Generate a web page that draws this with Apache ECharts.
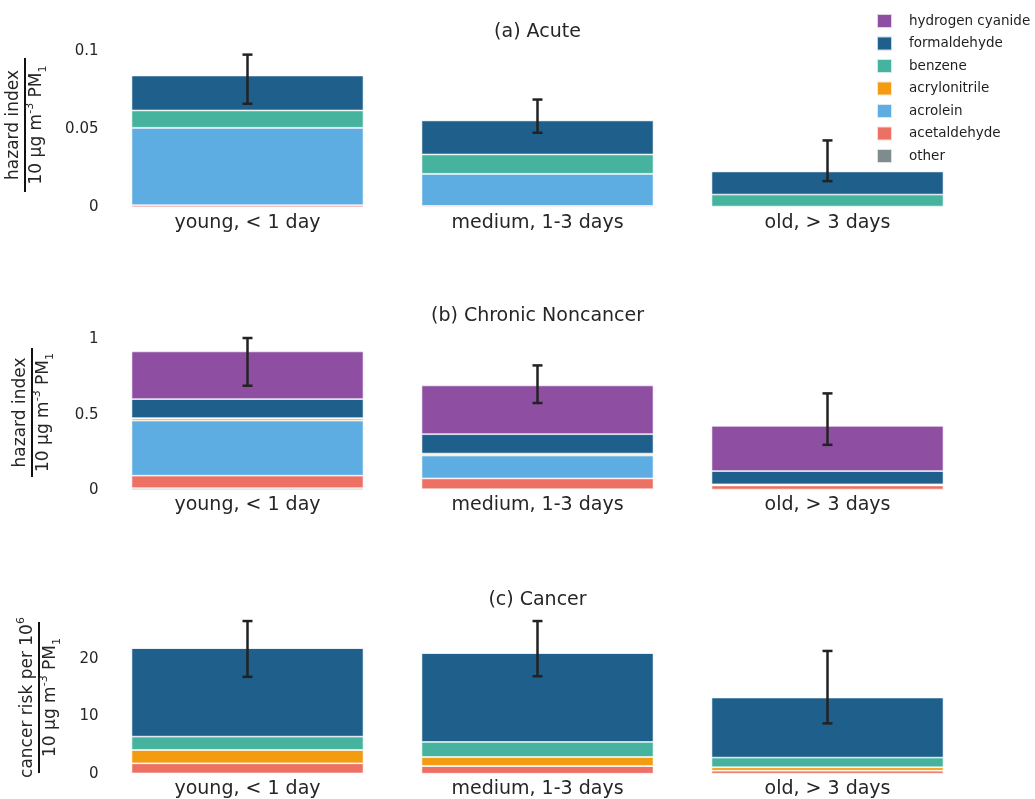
<!DOCTYPE html>
<html>
<head>
<meta charset="utf-8">
<script src="https://cdn.jsdelivr.net/npm/echarts@6/dist/echarts.min.js"></script>
<style>
  html, body { margin: 0; padding: 0; background: #fff; }
  #chart { width: 1035px; height: 799px; }
</style>
</head>
<body>
<div id="chart"></div>
<script>
// Smoke age classes
const categories = ['young, < 1 day', 'medium, 1-3 days', 'old, > 3 days'];

// Species, listed top-of-stack first (legend order)
const species = ['hydrogen cyanide', 'formaldehyde', 'benzene', 'acrylonitrile', 'acrolein', 'acetaldehyde', 'other'];
const speciesColors = ['#8E4FA3', '#1F5F8B', '#45B39D', '#F39C12', '#5DADE2', '#EC7063', '#7F8C8D'];

// (a) Acute hazard index per 10 ug m-3 PM1
const acuteHydrogenCyanide = [0.0004, 0.0004, 0.0002];
const acuteFormaldehyde    = [0.0224, 0.0218, 0.0148];
const acuteBenzene         = [0.0111, 0.0124, 0.0077];
const acuteAcrylonitrile   = [0.0000, 0.0000, 0.0000];
const acuteAcrolein        = [0.0496, 0.0206, 0.0001];
const acuteAcetaldehyde    = [0.0013, 0.0008, 0.0003];
const acuteOther           = [0.0002, 0.0002, 0.0002];
const acuteErrLow          = [0.0665, 0.0479, 0.0169];
const acuteErrHigh         = [0.0980, 0.0692, 0.0430];
const acuteTicks           = [0, 0.05, 0.1];

// (b) Chronic noncancer hazard index per 10 ug m-3 PM1
const chronicHydrogenCyanide = [0.317, 0.324, 0.300];
const chronicFormaldehyde    = [0.126, 0.129, 0.088];
const chronicBenzene         = [0.003, 0.003, 0.001];
const chronicAcrylonitrile   = [0.014, 0.010, 0.001];
const chronicAcrolein        = [0.366, 0.152, 0.006];
const chronicAcetaldehyde    = [0.083, 0.072, 0.027];
const chronicOther           = [0.012, 0.005, 0.003];
const chronicErrLow          = [0.693, 0.578, 0.300];
const chronicErrHigh         = [1.010, 0.828, 0.642];
const chronicTicks           = [0, 0.5, 1];

// (c) Cancer risk per 10^6 per 10 ug m-3 PM1
const cancerHydrogenCyanide = [0, 0, 0];
const cancerFormaldehyde    = [15.40, 15.47, 10.45];
const cancerBenzene         = [2.33, 2.61, 1.68];
const cancerAcrylonitrile   = [2.31, 1.57, 0.59];
const cancerAcrolein        = [0, 0, 0];
const cancerAcetaldehyde    = [1.76, 1.34, 0.53];
const cancerOther           = [0.10, 0.05, 0.05];
const cancerErrLow          = [16.9, 17.0, 8.8];
const cancerErrHigh         = [26.6, 26.6, 21.4];
const cancerTicks           = [0, 10, 20];

const FONT = 'DejaVu Sans, Verdana, sans-serif';
const TEXT = '#262626';

// denominator of the y-axis titles: 10 ug m^-3 PM_1
const unitLabel = '{n|10 μg m}{sup|-3}{n| PM}{sub|1}';

const panels = [
  {
    title: '(a) Acute',
    stacks: [acuteHydrogenCyanide, acuteFormaldehyde, acuteBenzene, acuteAcrylonitrile, acuteAcrolein, acuteAcetaldehyde, acuteOther],
    errLow: acuteErrLow, errHigh: acuteErrHigh, ticks: acuteTicks,
    yTop: '{n|hazard index}', yBottom: unitLabel,
    grid: { top: 51.5, height: 156 }, max: 0.1,
    titleY: 32, fracX: 25, fracY1: 58, fracY2: 192
  },
  {
    title: '(b) Chronic Noncancer',
    stacks: [chronicHydrogenCyanide, chronicFormaldehyde, chronicBenzene, chronicAcrylonitrile, chronicAcrolein, chronicAcetaldehyde, chronicOther],
    errLow: chronicErrLow, errHigh: chronicErrHigh, ticks: chronicTicks,
    yTop: '{n|hazard index}', yBottom: unitLabel,
    grid: { top: 332, height: 158 }, max: 1.05,
    titleY: 316, fracX: 32, fracY1: 348, fracY2: 477
  },
  {
    title: '(c) Cancer',
    stacks: [cancerHydrogenCyanide, cancerFormaldehyde, cancerBenzene, cancerAcrylonitrile, cancerAcrolein, cancerAcetaldehyde, cancerOther],
    errLow: cancerErrLow, errHigh: cancerErrHigh, ticks: cancerTicks,
    yTop: '{n|cancer risk per 10}{sup|6}', yBottom: unitLabel,
    grid: { top: 613, height: 161 }, max: 28,
    titleY: 600, fracX: 39, fracY1: 622, fracY2: 773
  }
];

const richStyles = {
  n: { fontSize: 17, fontFamily: FONT, color: TEXT, lineHeight: 24 },
  sup: { fontSize: 11, fontFamily: FONT, color: TEXT, verticalAlign: 'top' },
  sub: { fontSize: 11, fontFamily: FONT, color: TEXT, verticalAlign: 'bottom' }
};

function renderErrorBar(params, api) {
  const idx = api.value(0);
  const lo = api.coord([idx, api.value(1)]);
  const hi = api.coord([idx, api.value(2)]);
  const cap = 5;
  const style = { stroke: '#222', lineWidth: 2.5 };
  return {
    type: 'group',
    children: [
      { type: 'line', shape: { x1: lo[0], y1: lo[1], x2: hi[0], y2: hi[1] }, style },
      { type: 'line', shape: { x1: lo[0] - cap, y1: lo[1], x2: lo[0] + cap, y2: lo[1] }, style },
      { type: 'line', shape: { x1: hi[0] - cap, y1: hi[1], x2: hi[0] + cap, y2: hi[1] }, style }
    ]
  };
}

const grids = [], xAxes = [], yAxes = [], series = [], graphics = [];

panels.forEach((p, i) => {
  grids.push({ left: 102.5, width: 870, top: p.grid.top, height: p.grid.height });
  xAxes.push({
    type: 'category', gridIndex: i, data: categories,
    axisLine: { show: false }, axisTick: { show: false },
    axisLabel: { fontSize: 19, fontFamily: FONT, color: TEXT, margin: 6 }
  });
  yAxes.push({
    type: 'value', gridIndex: i, min: 0, max: p.max,
    splitLine: { show: false }, axisLine: { show: false }, axisTick: { show: false },
    axisLabel: { customValues: p.ticks, fontSize: 15, fontFamily: FONT, color: TEXT, margin: 4 }
  });

  // stacked bars, bottom of stack first
  for (let s = species.length - 1; s >= 0; s--) {
    series.push({
      name: species[s], type: 'bar', stack: 'panel' + i,
      xAxisIndex: i, yAxisIndex: i,
      barWidth: '80%',
      data: p.stacks[s],
      itemStyle: { color: speciesColors[s], borderColor: 'rgba(255,255,255,0.75)', borderWidth: 0.8 },
      emphasis: { disabled: true }
    });
  }

  series.push({
    type: 'custom', xAxisIndex: i, yAxisIndex: i, z: 10,
    renderItem: renderErrorBar,
    encode: { x: 0, y: [1, 2] },
    data: categories.map((c, k) => [k, p.errLow[k], p.errHigh[k]]),
    silent: true
  });

  // panel title
  graphics.push({
    type: 'text', x: 537.5, y: p.titleY,
    style: { text: p.title, fill: TEXT, font: '19px ' + FONT, align: 'center', verticalAlign: 'middle', textAlign: 'center', textVerticalAlign: 'middle' }
  });

  // y-axis title drawn as a fraction, rotated
  const cy = (p.fracY1 + p.fracY2) / 2;
  graphics.push({
    type: 'line', shape: { x1: p.fracX, y1: p.fracY1, x2: p.fracX, y2: p.fracY2 },
    style: { stroke: '#111', lineWidth: 2 }
  });
  graphics.push({
    type: 'text', x: p.fracX - 11, y: cy, rotation: Math.PI / 2,
    style: { text: p.yTop, rich: richStyles, fill: TEXT, font: '17px ' + FONT, align: 'center', verticalAlign: 'middle', textAlign: 'center', textVerticalAlign: 'middle' }
  });
  graphics.push({
    type: 'text', x: p.fracX + 12, y: cy, rotation: Math.PI / 2,
    style: { text: p.yBottom, rich: richStyles, fill: TEXT, font: '17px ' + FONT, align: 'center', verticalAlign: 'middle', textAlign: 'center', textVerticalAlign: 'middle' }
  });
});

const chart = echarts.init(document.getElementById('chart'), null, { renderer: 'canvas' });
chart.setOption({
  animation: false,
  backgroundColor: '#fff',
  grid: grids,
  xAxis: xAxes,
  yAxis: yAxes,
  legend: {
    data: species,
    orient: 'vertical',
    left: 876, top: 13,
    itemWidth: 15, itemHeight: 14, itemGap: 6.5,
    icon: 'rect',
    padding: 0,
    textStyle: { fontSize: 13.5, lineHeight: 14, fontFamily: FONT, color: '#1e1e1e', padding: [0, 0, 0, 12] }
  },
  series: series,
  graphic: { elements: graphics }
});
</script>
</body>
</html>
